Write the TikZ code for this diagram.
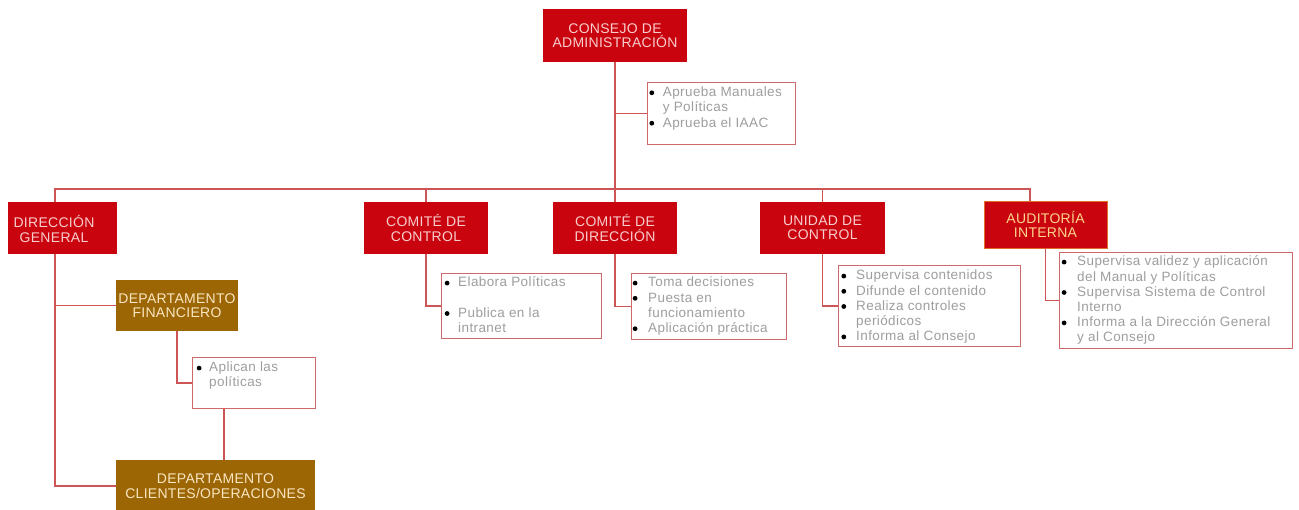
\documentclass[tikz,border=0pt]{standalone}
\usepackage{fontspec}
\setmainfont{Liberation Sans}
\newfontfamily\hdfont[LetterSpace=2]{Liberation Sans}
\newfontfamily\bdfont[LetterSpace=3]{Liberation Sans}
\usetikzlibrary{calc}
\definecolor{cred}{RGB}{202,4,14}
\definecolor{htext}{RGB}{248,205,205}
\definecolor{atext}{RGB}{250,212,140}
\definecolor{aedge}{RGB}{225,110,40}
\definecolor{gold}{RGB}{156,102,4}
\definecolor{gtext}{RGB}{250,230,195}
\definecolor{cline}{RGB}{205,85,85}
\definecolor{bborder}{RGB}{205,105,105}
\definecolor{btext}{RGB}{158,158,158}
\newcommand{\bu}{\raisebox{1.5pt}{\begin{pgfpicture}\pgfpathcircle{\pgfpoint{2.4pt}{2.4pt}}{2.4pt}\pgfsetfillcolor{black}\pgfusepath{fill}\end{pgfpicture}}}
\newcommand{\blist}[2]{\begin{tabular}[t]{@{}p{#1}@{}l@{}}#2\end{tabular}}
\tikzset{
  hdbox/.style={rectangle, fill=cred, text=htext, font=\hdfont\fontsize{14}{14.5}\selectfont, align=center, inner sep=0pt},
  gdbox/.style={hdbox, fill=gold, text=gtext},
  hdtext/.style={text=htext, font=\hdfont\fontsize{14}{14.5}\selectfont, align=center, inner sep=0pt},
  blbox/.style={rectangle, draw=bborder, line width=0.9pt, fill=white, anchor=north west, inner sep=0pt},
  bltext/.style={anchor=base west, inner sep=0pt, text=btext, font=\bdfont\fontsize{13.5}{15.2}\selectfont},
  conn/.style={draw=cline, line width=1.3pt}
}
\begin{document}
\begin{tikzpicture}[x=1pt, y=-1pt]
\useasboundingbox[fill=white] (0,0) rectangle (1299,510);
% header boxes
\node[hdbox, minimum width=144pt, minimum height=53pt] (cons) at (615,35.5) {CONSEJO DE\\ADMINISTRACIÓN};
\node[hdbox, minimum width=109pt, minimum height=52pt] (dg) at (62.5,228) {};
\node[hdtext] (dgt) at (54,229) {DIRECCIÓN\\GENERAL};
\node[hdbox, minimum width=124pt, minimum height=52pt] (cc) at (426,228) {COMITÉ DE\\CONTROL};
\node[hdbox, minimum width=124pt, minimum height=52pt] (cd) at (615,228) {COMITÉ DE\\DIRECCIÓN};
\node[hdbox, minimum width=125pt, minimum height=52pt] (uc) at (822.5,228) {UNIDAD DE\\CONTROL};
\node[hdbox, text=atext, draw=aedge, line width=0.6pt, minimum width=123pt, minimum height=47pt] (aud) at (1045.5,224.5) {AUDITORÍA\\INTERNA};
\node[gdbox, minimum width=122pt, minimum height=51pt] (df) at (177,305.5) {DEPARTAMENTO\\FINANCIERO};
\node[gdbox, minimum width=199pt, minimum height=52pt] (dc) at (215.5,486) {DEPARTAMENTO\\CLIENTES/OPERACIONES};
% bullet boxes
\node[blbox, minimum width=148pt, minimum height=62pt] (bcons) at (647,82) {};
\node[blbox, minimum width=160pt, minimum height=65pt] (bcc) at (441,273) {};
\node[blbox, minimum width=155pt, minimum height=66pt] (bcd) at (631,273) {};
\node[blbox, minimum width=182pt, minimum height=81pt] (buc) at (838,265) {};
\node[blbox, minimum width=233pt, minimum height=96pt] (baud) at (1059,252) {};
\node[blbox, minimum width=123pt, minimum height=51pt] (bdf) at (192,357) {};
% bullet texts
\node[bltext] (tcons) at (649.2,96.7) {\blist{13.5pt}{\bu & Aprueba Manuales\\ & y Políticas\\ \bu & Aprueba el IAAC}};
\node[bltext] (tcc) at (444.5,287) {\blist{13.5pt}{\bu & Elabora Políticas\\ & \\ \bu & Publica en la\\ & intranet}};
\node[bltext] (tcd) at (632.5,287) {\blist{15.5pt}{\bu & Toma decisiones\\ \bu & Puesta en\\ & funcionamiento\\ \bu & Aplicación práctica}};
\node[bltext] (tuc) at (841.2,280) {\blist{14.8pt}{\bu & Supervisa contenidos\\ \bu & Difunde el contenido\\ \bu & Realiza controles\\ & periódicos\\ \bu & Informa al Consejo}};
\node[bltext] (taud) at (1061.5,266) {\blist{15.5pt}{\bu & Supervisa validez y aplicación\\ & del Manual y Políticas\\ \bu & Supervisa Sistema de Control\\ & Interno\\ \bu & Informa a la Dirección General\\ & y al Consejo}};
\node[bltext, font=\bdfont\fontsize{13.5}{14}\selectfont] (tdf) at (196.5,372) {\blist{12.5pt}{\bu & Aplican las\\ & políticas}};
% connectors
\coordinate (busL) at (55,189);
\coordinate (busR) at (1030,189);
\coordinate (kx) at (224,0);
\draw[conn] (cons.south) -- (cd.north);
\draw[conn] (cons.south |- bcons.west) -- (bcons.west);
\draw[conn] (busL |- dg.north) -- (busL) -- (busR) -- (busR |- aud.north);
\draw[conn] (cc.north) -- (cc.north |- busL);
\draw[conn] (uc.north) -- (uc.north |- busL);
\draw[conn] (cc.south) |- (bcc.west);
\draw[conn] (cd.south) |- (bcd.west);
\draw[conn] (uc.south) |- (buc.west);
\draw[conn] (aud.south) |- (baud.west);
\draw[conn] (busL |- dg.south) -- (busL |- dc.west) -- (dc.west);
\draw[conn] (busL |- df.west) -- (df.west);
\draw[conn] (df.south) |- (bdf.west);
\draw[conn] (kx |- bdf.south) -- (kx |- dc.north);
\end{tikzpicture}
\end{document}
